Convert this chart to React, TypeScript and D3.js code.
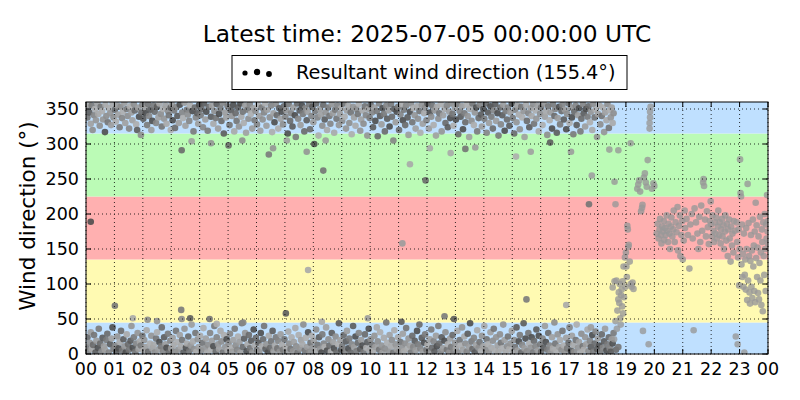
import React from "react";
import * as d3 from "d3";

const TITLE = "Latest time: 2025-07-05 00:00:00 UTC";
const SERIES_LABEL = "Resultant wind direction (155.4°)";
const Y_LABEL = "Wind direction (°)";
const hourLabels = ["00","01","02","03","04","05","06","07","08","09","10","11","12","13","14","15","16","17","18","19","20","21","22","23","00"];
const yTicks = [0, 50, 100, 150, 200, 250, 300, 350];
const sectorEdges = [0, 45, 135, 225, 315, 360];

// [minute of day, direction in degrees]
const lowBand: [number, number][] = [
[1,10],[3,24],[5,4],[8,16],[10,31],[12,7],[15,13],[17,27],[20,2],[22,19],[25,9],[27,36],[30,15],[33,4],[35,23],[38,11],[40,6],[43,20],[45,29],[48,2],[51,14],[54,22],[56,38],[58,7],
[62,12],[64,3],[66,25],[69,8],[71,17],[74,33],[76,5],[79,21],[81,11],[84,2],[86,28],[89,14],[91,6],[94,19],[96,40],[99,9],[101,24],[104,3],[106,15],[109,30],[111,7],[114,18],[116,12],[119,26],
[121,5],[123,20],[126,10],[128,34],[131,3],[135,15],[138,26],[140,8],[143,13],[145,2],[148,22],[150,31],[153,6],[155,17],[158,11],[160,38],[163,4],[165,24],[168,14],[170,9],[173,29],[175,2],[178,19],
[180,8],[183,23],[185,13],[188,3],[190,33],[193,17],[195,6],[198,27],[200,11],[203,20],[206,2],[208,36],[211,9],[213,15],[216,25],[218,4],[221,12],[223,42],[226,18],[228,7],[231,30],[233,3],[236,21],
[238,10],[241,26],[243,5],[246,16],[248,37],[251,8],[253,22],[256,2],[258,13],[262,30],[264,6],[266,19],[269,11],[271,40],[274,3],[276,24],[276,43],[279,14],[281,7],[284,33],[286,18],[289,2],[291,27],[294,10],[297,21],
[299,5],[301,15],[304,29],[306,9],[309,3],[311,20],[314,36],[316,12],[319,6],[321,25],[324,17],[326,2],[329,44],[331,10],[332,45],[334,22],[336,30],[339,4],[341,14],[344,27],[346,8],[349,19],[351,2],[354,35],[356,12],
[359,23],[361,6],[364,16],[366,3],[369,30],[371,11],[374,21],[376,40],[379,7],[381,14],[384,2],[386,26],[389,9],[391,18],[394,33],[396,4],[399,12],[401,24],[404,8],[406,19],[409,3],[411,28],[414,13],[416,6],
[419,21],[422,10],[424,2],[427,32],[429,15],[432,7],[434,24],[437,4],[439,17],[442,37],[444,11],[447,2],[449,27],[452,8],[454,20],[457,14],[459,42],[462,5],[464,23],[467,10],[469,31],[472,3],[474,16],[477,26],
[479,9],[481,19],[484,4],[486,35],[489,13],[492,24],[494,7],[497,2],[498,46],[499,28],[502,15],[504,10],[507,38],[509,5],[512,21],[514,12],[517,3],[519,30],[522,17],[524,8],[527,25],[529,2],[532,14],[534,44],[537,20],
[539,6],[541,11],[544,27],[546,3],[549,18],[551,33],[554,8],[556,22],[559,2],[561,14],[564,40],[566,10],[569,25],[571,4],[574,16],[576,30],[579,7],[581,20],[584,12],[586,2],[589,28],[592,9],[594,17],[597,36],
[599,5],[601,21],[604,13],[606,3],[609,26],[611,10],[614,38],[616,18],[619,6],[621,31],[624,12],[626,2],[629,23],[631,8],[634,45],[636,16],[639,4],[641,27],[644,11],[646,20],[649,2],[651,34],[654,14],[656,7],
[659,24],[661,3],[664,17],[667,9],[669,29],[671,4],[674,15],[676,37],[679,7],[681,22],[684,12],[686,2],[689,26],[691,10],[694,19],[696,5],[699,33],[701,14],[704,42],[706,8],[709,23],[711,3],[714,16],
[716,28],[719,6],[721,13],[724,2],[726,21],[729,35],[731,9],[734,18],[736,4],[739,26],[741,11],[744,40],[746,15],[749,3],[751,24],[754,8],[757,19],[759,31],[762,6],[764,14],[767,2],[769,22],[771,10],
[774,27],[776,4],[779,16],[781,8],[784,33],[786,2],[789,20],[791,12],[794,38],[796,6],[799,25],[801,15],[804,3],[806,29],[809,10],[811,44],[814,18],[816,7],[819,23],[821,2],[824,13],[826,34],[829,9],
[831,17],[834,4],[836,26],[839,11],[841,40],[844,6],[846,21],[849,14],[851,2],[854,31],[856,9],[859,19],[861,36],[864,5],[866,24],[869,12],[871,3],[874,28],[876,16],[879,8],[881,42],[884,20],[886,2],[889,11],
[891,25],[894,7],[896,15],[899,33],[901,3],[904,20],[906,10],[909,38],[911,5],[914,18],[916,27],[919,2],[921,13],[924,44],[926,8],[928,22],[931,4],[934,30],[936,15],[939,9],[941,24],[944,2],
[946,19],[949,11],[951,35],[954,5],[956,26],[959,14],[961,3],[964,22],[966,9],[969,40],[971,17],[974,6],[976,30],[979,12],[981,2],[984,24],[986,8],[989,45],[991,15],[994,4],[996,28],[999,10],[1001,20],[1004,6],
[1006,33],[1009,12],[1011,2],[1014,23],[1016,8],[1019,16],[1021,38],[1024,5],[1026,26],[1029,13],[1031,3],[1034,20],[1036,42],[1039,9],[1041,17],[1044,2],[1046,29],[1049,11],[1051,6],[1054,24],[1056,14],[1059,35],
[1061,4],[1064,19],[1066,10],[1069,27],[1071,3],[1074,15],[1076,32],[1079,7],[1081,22],[1084,12],[1086,2],[1089,28],[1091,9],[1094,18],[1096,36],[1099,5],[1101,14],[1104,24],[1106,8],[1108,3],[1110,21],[1112,15],[1114,30],[1119,6],[1124,10]
];

const highBand: [number, number][] = [
[1,352],[3,338],[5,357],[7,345],[10,329],[12,355],[14,320],[17,341],[19,350],[21,334],[24,358],[26,343],[29,326],[31,353],[34,347],[36,335],[40,317],[41,356],[43,340],[46,331],[48,351],[51,344],[53,327],[56,357],[58,338],
[61,349],[63,332],[66,355],[68,342],[71,324],[73,353],[76,337],[78,346],[81,359],[83,330],[86,350],[88,340],[91,322],[93,354],[96,345],[98,334],[101,357],[103,348],[106,328],[108,320],[110,352],[112,339],[116,313],[117,345],[119,356],
[121,336],[124,351],[126,344],[129,327],[131,357],[133,340],[136,349],[138,320],[140,333],[143,355],[145,346],[148,330],[150,353],[153,338],[155,358],[158,343],[160,325],[163,350],[165,336],[168,355],[170,329],[173,347],[175,341],[179,320],[179,352],
[181,357],[183,334],[186,348],[188,323],[191,353],[193,340],[196,330],[198,356],[203,345],[205,337],[208,359],[210,326],[213,349],[215,342],[218,333],[220,355],[225,347],[227,318],[230,352],[232,338],[235,344],[237,329],
[239,356],[242,341],[244,350],[247,324],[249,358],[252,335],[254,346],[257,319],[259,353],[264,339],[266,355],[269,329],[271,347],[274,337],[276,357],[279,322],[281,343],[284,351],[286,333],[289,359],[291,315],[294,345],[296,338],
[299,354],[303,327],[306,348],[308,340],[311,356],[313,318],[316,344],[318,333],[321,352],[323,325],[326,358],[328,339],[331,346],[333,330],[336,355],[338,316],[341,349],[343,336],[346,357],[348,343],[351,322],[353,351],[356,334],
[358,347],[361,328],[363,356],[366,340],[368,319],[371,352],[373,335],[376,345],[378,358],[381,326],[383,349],[388,338],[391,355],[393,317],[396,344],[398,331],[401,357],[403,341],[406,322],[408,351],[411,336],[413,346],[416,328],
[418,354],[421,339],[423,348],[426,315],[428,357],[431,333],[433,344],[436,325],[438,352],[441,341],[443,310],[446,358],[448,336],[451,348],[453,327],[456,355],[458,343],[461,318],[463,351],[466,334],[468,346],[471,357],[473,321],[476,340],
[478,353],[480,331],[484,347],[486,358],[489,338],[491,312],[494,350],[496,342],[499,326],[501,356],[504,335],[506,345],[509,320],[511,352],[514,340],[516,329],[519,357],[521,344],[524,316],[526,349],[529,336],[531,355],[534,327],[536,343],
[539,351],[541,333],[544,358],[546,339],[549,322],[551,348],[554,355],[556,330],[559,345],[561,314],[564,353],[566,338],[569,326],[571,350],[574,343],[576,357],[579,319],[581,335],[584,348],[586,329],[589,354],[591,341],[594,312],[596,350],
[599,337],[601,356],[604,345],[606,324],[609,352],[611,333],[614,347],[616,311],[619,358],[621,340],[624,328],[626,351],[629,343],[631,318],[634,355],[636,336],[639,348],[641,325],[644,357],[646,339],[649,305],[651,350],[654,331],[656,346],
[659,353],[661,320],[664,342],[666,357],[669,334],[671,349],[674,327],[676,355],[679,338],[681,313],[684,346],[686,358],[689,331],[691,351],[694,341],[696,322],[699,354],[701,336],[704,347],[706,316],[709,356],[711,329],[714,344],
[716,352],[719,334],[721,358],[724,322],[726,345],[729,339],[731,355],[734,327],[736,348],[739,312],[741,353],[744,336],[746,344],[749,357],[751,318],[754,341],[757,350],[759,330],[762,355],[764,324],[767,346],[769,337],[771,358],
[774,343],[776,326],[779,352],[781,335],[784,357],[786,314],[789,347],[791,339],[794,354],[796,321],[799,344],[801,331],[804,356],[806,340],[809,310],[811,350],[814,333],[816,358],[819,327],[821,345],[824,352],[826,318],[829,337],
[831,356],[834,342],[836,325],[839,350],[841,336],[844,358],[846,316],[849,345],[851,330],[854,354],[856,339],[859,322],[861,348],[864,357],[866,333],[869,344],[871,312],[874,352],[876,328],[879,341],[881,356],[884,319],[886,347],[889,335],
[891,352],[894,326],[896,345],[899,358],[901,337],[904,315],[906,349],[909,331],[911,355],[914,342],[916,321],[919,353],[921,338],[924,347],[926,310],[929,356],[931,333],[934,344],[936,324],[939,351],[941,340],[944,357],
[946,329],[949,348],[951,336],[954,355],[956,318],[959,343],[961,352],[964,327],[966,358],[969,339],[971,346],[974,313],[976,354],[979,334],[981,345],[984,322],[986,357],[989,340],[991,350],[994,316],[996,337],[999,353],[1001,328],[1004,347],
[1006,356],[1009,335],[1011,349],[1014,321],[1016,343],[1019,358],[1021,330],[1024,352],[1026,338],[1029,314],[1031,346],[1034,355],[1036,327],[1039,341],[1041,351],[1044,318],[1046,336],[1049,357],[1051,344],[1054,325],[1056,350],[1059,339],
[1061,354],[1064,331],[1066,346],[1069,320],[1071,357],[1074,338],[1076,349],[1079,310],[1081,343],[1084,355],[1086,328],[1089,340],[1091,352],[1094,317],[1096,345],[1099,334],[1101,357],[1104,323],[1106,348],[1108,338],[1110,352],[1112,330],[1114,344]
];

const scattered: [number, number][] = [
[10,189],[61,69],[99,51],[130,49],[150,47],[201,63],[202,50],[220,51],[202,291],[223,304],[261,50],[264,301],[301,298],[330,305],[386,285],[395,294],
[422,58],[424,305],[466,289],[469,120],[482,300],[501,262],[506,305],[595,51],[666,46],[668,158],[684,271],[717,248],[726,294],[757,54],[770,287],
[777,50],[801,293],[822,295],[908,282],[930,78],[939,289],[980,302],[1014,70],[1024,289],[1062,214],[1068,255],[1066,38]
];

const evening: [number, number][] = [
[1105,292],[1116,246],[1118,214],[1124,291],[1150,301],
[1112,95],[1115,21],[1116,104],[1118,47],[1120,105],[1121,36],[1122,62],[1124,78],[1125,88],[1126,73],[1127,100],[1128,51],[1129,42],[1130,84],[1131,92],[1132,68],[1133,104],[1134,58],
[1135,125],[1136,81],[1138,138],[1139,96],[1140,145],[1141,125],[1142,110],[1143,183],[1144,178],[1145,153],[1146,156],[1148,132],[1150,100],[1152,96],[1154,102],[1156,93],
[1164,236],[1166,242],[1168,248],[1170,232],[1172,204],[1174,209],[1175,213],[1176,33],[1178,252],[1180,258],[1182,245],[1184,239],[1186,277],[1188,14],
[1190,330],[1190,322],[1191,338],[1191,346],[1192,353],[1195,236],[1198,244],[1200,240],
[1205,172],[1207,186],[1209,165],[1211,178],[1212,193],[1214,170],[1215,158],[1217,182],[1218,175],[1220,190],[1221,163],[1223,180],[1224,170],[1226,198],[1227,176],[1229,160],
[1230,186],[1232,172],[1233,150],[1235,182],[1236,195],[1238,168],[1240,178],[1241,205],[1243,160],[1245,188],[1247,174],[1249,210],[1250,148],[1252,183],[1254,198],[1255,140],
[1257,170],[1259,190],[1260,135],[1262,162],[1264,205],[1265,180],
[1268,193],[1271,170],[1274,122],[1276,185],[1279,200],[1281,165],[1283,34],[1285,208],[1288,188],[1291,172],[1293,150],[1295,196],[1297,160],[1299,212],[1301,176],
[1303,245],[1304,250],[1305,240],[1307,192],[1309,168],[1311,204],[1313,181],[1315,157],[1317,190],[1319,218],
[1320,185],[1322,168],[1323,198],[1325,176],[1326,160],[1328,188],[1329,172],[1331,195],[1332,165],[1334,182],[1335,205],[1337,170],[1338,188],[1340,158],[1341,178],[1343,193],
[1344,168],[1346,184],[1347,150],[1349,175],[1350,198],[1352,162],[1353,186],[1355,140],[1356,178],[1358,192],[1359,165],[1361,132],[1362,182],[1364,155],[1365,172],[1367,145],
[1368,190],[1370,176],[1372,25],[1374,188],[1375,160],[1376,14],[1377,138],[1378,178],[1379,98],
[1380,150],[1381,278],[1382,230],[1383,225],[1384,128],[1385,185],[1386,110],[1387,143],[1388,96],[1389,172],[1390,2],[1391,113],[1392,135],[1393,92],[1394,180],[1395,150],[1396,77],
[1397,243],[1398,105],[1399,187],[1400,140],[1401,88],[1402,72],[1403,133],[1404,170],[1405,96],[1406,148],[1407,80],[1408,192],[1409,125],[1410,155],[1411,90],[1412,175],[1413,74],
[1414,216],[1415,137],[1416,184],[1417,110],[1418,152],[1419,87],[1420,168],[1421,78],[1422,130],[1423,196],[1424,105],[1425,145],[1426,70],[1427,178],[1428,160],[1429,61],[1430,188],
[1431,140],[1432,113],[1433,200],[1434,150],[1435,90],[1436,185],[1437,165],[1438,227],[1439,175],[1440,190],[1440,158]
];

const FONT = "DejaVu Sans, sans-serif";
const SECTOR_COLORS = ["#bfe0ff", "#fffab2", "#ffb0b0", "#bbfbb6", "#bfe0ff"];
const GRAYS = ["#7a7a7a","#959595","#6a6a6a","#a0a0a0","#858585","#a8a8a8","#5c5c5c","#8e8e8e","#9c9c9c","#747474","#4e4e4e","#adadad"];

export default function App() {
  const box = { left: 86, right: 768, top: 102, bottom: 354 };
  const x = d3.scaleLinear().domain([0, 1440]).range([box.left, box.right]);
  const y = d3.scaleLinear().domain([0, 360]).range([box.bottom, box.top]);
  const hourTicks = hourLabels.map((_, i) => i * 60);
  const early = [...lowBand, ...highBand, ...scattered].sort((a, b) => a[0] - b[0]);
  const tickLen = 5;

  return (
    <svg width={800} height={400} style={{ position: "absolute", left: 0, top: 0, background: "#fff" }} fontFamily={FONT}>
      <defs>
        <clipPath id="plotClip">
          <rect x={box.left} y={box.top} width={box.right - box.left} height={box.bottom - box.top} />
        </clipPath>
      </defs>
      {sectorEdges.slice(0, -1).map((lo, i) => (
        <rect key={"s" + i} x={box.left} width={box.right - box.left}
          y={y(sectorEdges[i + 1])} height={y(lo) - y(sectorEdges[i + 1])} fill={SECTOR_COLORS[i]} />
      ))}
      <g clipPath="url(#plotClip)">
        {early.map((p, i) => (
          <circle key={"e" + i} cx={x(p[0])} cy={y(p[1])} r={3.3} fill={GRAYS[(i * 7) % GRAYS.length]} fillOpacity={0.9} />
        ))}
        {evening.map((p, i) => (
          <circle key={"v" + i} cx={x(p[0])} cy={y(p[1])} r={3.3} fill="#999999" fillOpacity={0.8} />
        ))}
      </g>
      <g stroke="#000" strokeWidth={1} strokeDasharray="1,3" opacity={0.8}>
        {hourTicks.map((t, i) => (
          <line key={"gx" + i} x1={x(t)} x2={x(t)} y1={box.top} y2={box.bottom} />
        ))}
        {yTicks.map((v, i) => (
          <line key={"gy" + i} x1={box.left} x2={box.right} y1={y(v)} y2={y(v)} />
        ))}
      </g>
      <g stroke="#000" strokeWidth={1}>
        {hourTicks.map((t, i) => (
          <g key={"tx" + i}>
            <line x1={x(t)} x2={x(t)} y1={box.bottom} y2={box.bottom - tickLen} />
            <line x1={x(t)} x2={x(t)} y1={box.top} y2={box.top + tickLen} />
          </g>
        ))}
        {yTicks.map((v, i) => (
          <g key={"ty" + i}>
            <line x1={box.left} x2={box.left + tickLen} y1={y(v)} y2={y(v)} />
            <line x1={box.right} x2={box.right - tickLen} y1={y(v)} y2={y(v)} />
          </g>
        ))}
      </g>
      <rect x={box.left} y={box.top} width={box.right - box.left} height={box.bottom - box.top} fill="none" stroke="#000" strokeWidth={1} />
      {hourTicks.map((t, i) => (
        <text key={"lx" + i} x={x(t)} y={box.bottom + 21} textAnchor="middle" fontSize={17.5}>{hourLabels[i]}</text>
      ))}
      {yTicks.map((v, i) => (
        <text key={"ly" + i} x={box.left - 7} y={y(v) + 6} textAnchor="end" fontSize={17.5}>{v}</text>
      ))}
      <text x={0} y={0} transform={`translate(35,216) rotate(-90)`} textAnchor="middle" fontSize={21.5}>{Y_LABEL}</text>
      <text x={(box.left + box.right) / 2} y={42} textAnchor="middle" fontSize={23.3}>{TITLE}</text>
      <rect x={232} y={55.5} width={395} height={34} fill="#fff" stroke="#000" strokeWidth={1} />
      <circle cx={245} cy={73} r={2.6} fill="#000" />
      <circle cx={257} cy={72} r={3.2} fill="#000" />
      <circle cx={269} cy={74} r={2.9} fill="#000" />
      <text x={296} y={79} fontSize={19.3}>{SERIES_LABEL}</text>
    </svg>
  );
}
